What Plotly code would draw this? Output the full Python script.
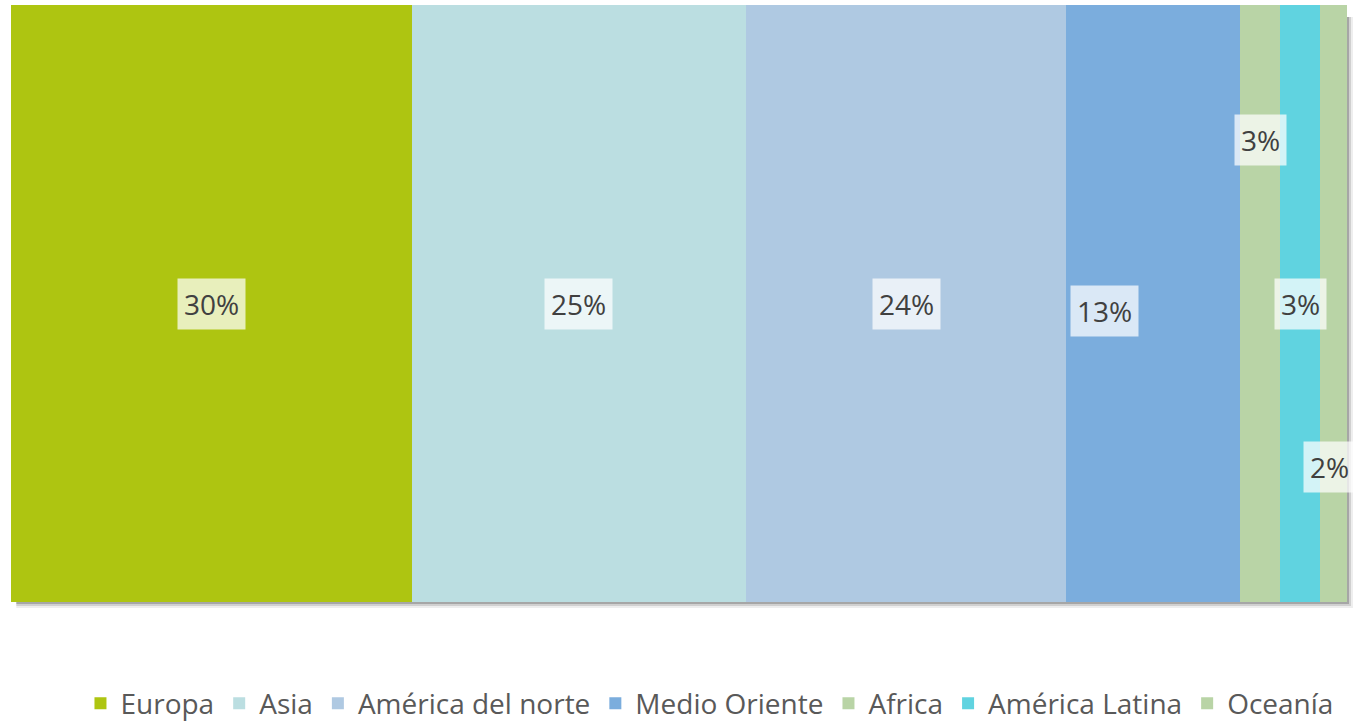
import plotly.graph_objects as go

regions = ["Europa", "Asia", "América del norte", "Medio Oriente", "Africa", "América Latina", "Oceanía"]
shares = [30, 25, 24, 13, 3, 3, 2]
colors = ["#AEC511", "#BBDEE1", "#AFC9E2", "#7BADDD", "#B9D4A6", "#60D3E0", "#B9D4A6"]

# label placement (paper y of label centre, pixel shift in x)
label_y = [0.499, 0.499, 0.499, 0.487, 0.774, 0.499, 0.226]
label_dx = [0, 0, 0, -49, 0, 0, -4]

fig = go.Figure()
for name, v, c in zip(regions, shares, colors):
    fig.add_trace(go.Bar(
        x=[v], y=["Regiones"], orientation="h", name=name,
        marker=dict(color=c, line=dict(width=0)),
        width=1, hoverinfo="name+x",
    ))

total = sum(shares)
cum = 0
for v, ly, dx in zip(shares, label_y, label_dx):
    center = cum + v / 2
    cum += v
    fig.add_annotation(
        x=center, y=ly, xref="x", yref="paper", xshift=dx,
        xanchor="center", yanchor="middle",
        text=f"{round(v / total * 100)}%", showarrow=False,
        font=dict(family="Open Sans, Liberation Sans, sans-serif", size=28, color="#404040"),
        bgcolor="rgba(255,255,255,0.72)", borderpad=6,
    )

# soft drop shadow under the bar
for i, op in enumerate([0.35, 0.2, 0.1]):
    d = (i + 1) * 2
    fig.add_shape(type="rect", xref="paper", yref="paper",
                  x0=0.004, x1=1 + d / 1336, y0=-d / 597, y1=0.98,
                  fillcolor="rgba(90,90,90,%s)" % op, line=dict(width=0), layer="below")

fig.update_layout(
    width=1355, height=721,
    margin=dict(l=11, r=8, t=5, b=119, autoexpand=False),
    barmode="stack",
    bargap=0,
    plot_bgcolor="rgba(0,0,0,0)",
    paper_bgcolor="white",
    xaxis=dict(range=[0, total], visible=False, fixedrange=True),
    yaxis=dict(range=[-0.5, 0.5], visible=False, fixedrange=True),
    showlegend=True,
    legend=dict(
        orientation="h", x=0.052, xanchor="left", y=-0.170, yanchor="middle",
        font=dict(family="Open Sans, Liberation Sans, sans-serif", size=28, color="#595959"),
        itemsizing="constant", traceorder="normal",
    ),
)

fig.write_html("out.html", config={"displayModeBar": False},
               post_script="document.body.style.margin='0';")
